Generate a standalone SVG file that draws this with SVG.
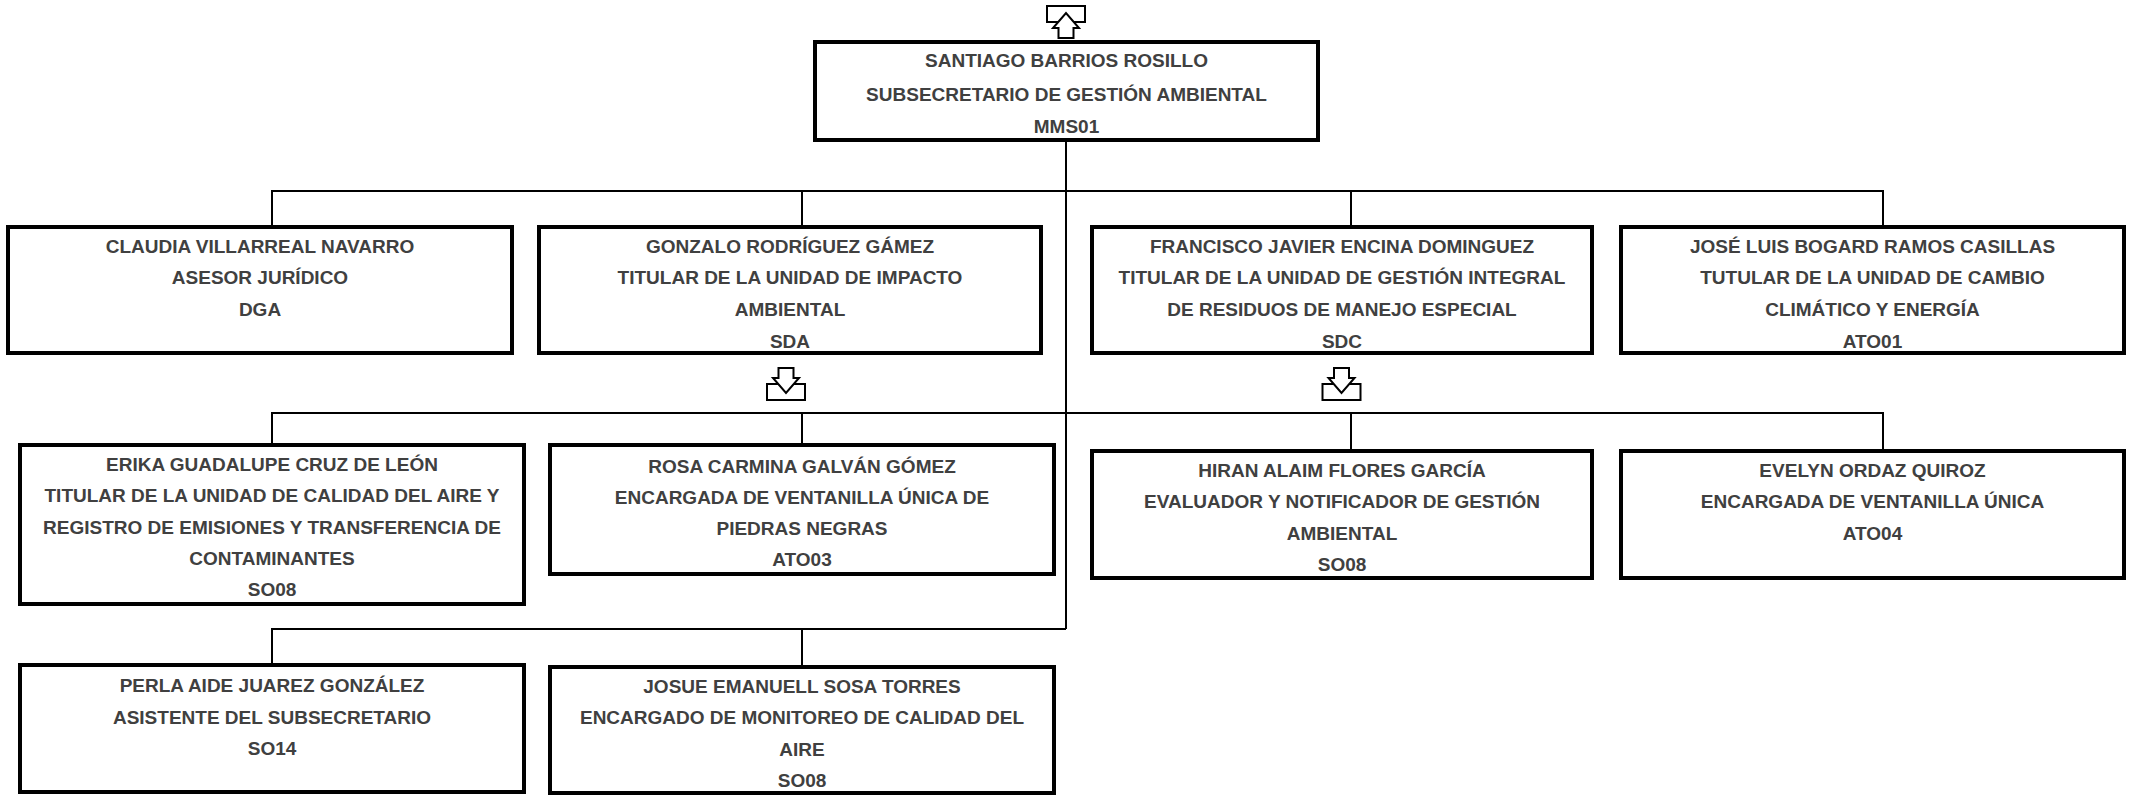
<svg xmlns="http://www.w3.org/2000/svg" xmlns:xlink="http://www.w3.org/1999/xlink" width="2134" height="796" viewBox="0 0 2134 796">
<style>
.box{fill:#fff;stroke:#000;stroke-width:4}
.t{font-family:"Liberation Sans",Arial,sans-serif;font-weight:bold;font-size:19px;fill:#404040;text-anchor:middle}
.c{fill:none;stroke:#000;stroke-width:2}
.ic{fill:#fff;stroke:#000;stroke-width:2}
</style>
<defs>
<g id="icon-down">
<rect class="ic" x="-19" y="16" width="38" height="16"/>
<polygon class="ic" points="-7.5,0 7.5,0 7.5,10 13,10 0,25 -13,10 -7.5,10"/>
</g>
</defs>
<rect width="2134" height="796" fill="#fff"/>
<g id="connectors">
<path class="c" d="M1066 142V629"/>
<path class="c" d="M272 227V191H1883V227M802 191V227M1351 191V227"/>
<path class="c" d="M272 445V413H1883V451M802 413V445M1351 413V451"/>
<path class="c" d="M272 665V629H1066M802 629V667"/>
</g>
<g id="icons">
<use xlink:href="#icon-down" transform="translate(1066,42) scale(1,-1) translate(0,4)"/>
<use xlink:href="#icon-down" transform="translate(786,368)"/>
<use xlink:href="#icon-down" transform="translate(1341.5,368)"/>
</g>
<g id="n-top">
<rect class="box" x="815" y="42" width="503" height="98"/>
<text class="t" x="1066.5" y="67">SANTIAGO BARRIOS ROSILLO</text>
<text class="t" x="1066.5" y="100.5">SUBSECRETARIO DE GESTIÓN AMBIENTAL</text>
<text class="t" x="1066.5" y="133">MMS01</text>
</g>
<g id="n-a">
<rect class="box" x="8" y="227" width="504" height="126"/>
<text class="t" x="260" y="252.5">CLAUDIA VILLARREAL NAVARRO</text>
<text class="t" x="260" y="284">ASESOR JURÍDICO</text>
<text class="t" x="260" y="316">DGA</text>
</g>
<g id="n-b">
<rect class="box" x="539" y="227" width="502" height="126"/>
<text class="t" x="790" y="252.5">GONZALO RODRÍGUEZ GÁMEZ</text>
<text class="t" x="790" y="284">TITULAR DE LA UNIDAD DE IMPACTO</text>
<text class="t" x="790" y="316">AMBIENTAL</text>
<text class="t" x="790" y="347.5">SDA</text>
</g>
<g id="n-c">
<rect class="box" x="1092" y="227" width="500" height="126"/>
<text class="t" x="1342" y="252.5">FRANCISCO JAVIER ENCINA DOMINGUEZ</text>
<text class="t" x="1342" y="284">TITULAR DE LA UNIDAD DE GESTIÓN INTEGRAL</text>
<text class="t" x="1342" y="316">DE RESIDUOS DE MANEJO ESPECIAL</text>
<text class="t" x="1342" y="347.5">SDC</text>
</g>
<g id="n-d">
<rect class="box" x="1621" y="227" width="503" height="126"/>
<text class="t" x="1872.5" y="252.5">JOSÉ LUIS BOGARD RAMOS CASILLAS</text>
<text class="t" x="1872.5" y="284">TUTULAR DE LA UNIDAD DE CAMBIO</text>
<text class="t" x="1872.5" y="316">CLIMÁTICO Y ENERGÍA</text>
<text class="t" x="1872.5" y="347.5">ATO01</text>
</g>
<g id="n-e">
<rect class="box" x="20" y="445" width="504" height="159"/>
<text class="t" x="272" y="471">ERIKA GUADALUPE CRUZ DE LEÓN</text>
<text class="t" x="272" y="502">TITULAR DE LA UNIDAD DE CALIDAD DEL AIRE Y</text>
<text class="t" x="272" y="534">REGISTRO DE EMISIONES Y TRANSFERENCIA DE</text>
<text class="t" x="272" y="565">CONTAMINANTES</text>
<text class="t" x="272" y="596">SO08</text>
</g>
<g id="n-f">
<rect class="box" x="550" y="445" width="504" height="129"/>
<text class="t" x="802" y="472.5">ROSA CARMINA GALVÁN GÓMEZ</text>
<text class="t" x="802" y="504">ENCARGADA DE VENTANILLA ÚNICA DE</text>
<text class="t" x="802" y="535">PIEDRAS NEGRAS</text>
<text class="t" x="802" y="566">ATO03</text>
</g>
<g id="n-g">
<rect class="box" x="1092" y="451" width="500" height="127"/>
<text class="t" x="1342" y="477">HIRAN ALAIM FLORES GARCÍA</text>
<text class="t" x="1342" y="508">EVALUADOR Y NOTIFICADOR DE GESTIÓN</text>
<text class="t" x="1342" y="539.5">AMBIENTAL</text>
<text class="t" x="1342" y="571">SO08</text>
</g>
<g id="n-h">
<rect class="box" x="1621" y="451" width="503" height="127"/>
<text class="t" x="1872.5" y="477">EVELYN ORDAZ QUIROZ</text>
<text class="t" x="1872.5" y="508">ENCARGADA DE VENTANILLA ÚNICA</text>
<text class="t" x="1872.5" y="539.5">ATO04</text>
</g>
<g id="n-i">
<rect class="box" x="20" y="665" width="504" height="127"/>
<text class="t" x="272" y="691.5">PERLA AIDE JUAREZ GONZÁLEZ</text>
<text class="t" x="272" y="723.5">ASISTENTE DEL SUBSECRETARIO</text>
<text class="t" x="272" y="755">SO14</text>
</g>
<g id="n-j">
<rect class="box" x="550" y="667" width="504" height="126"/>
<text class="t" x="802" y="692.5">JOSUE EMANUELL SOSA TORRES</text>
<text class="t" x="802" y="724">ENCARGADO DE MONITOREO DE CALIDAD DEL</text>
<text class="t" x="802" y="755.5">AIRE</text>
<text class="t" x="802" y="786.5">SO08</text>
</g>
</svg>
